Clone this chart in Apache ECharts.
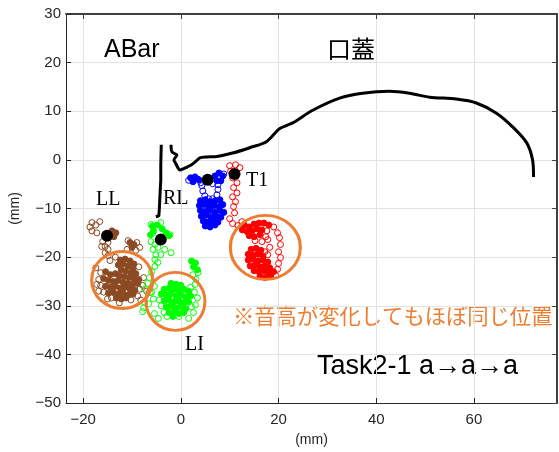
<!DOCTYPE html>
<html>
<head>
<meta charset="utf-8">
<script src="https://cdn.jsdelivr.net/npm/echarts@6/dist/echarts.min.js"></script>
<style>
  html, body { margin: 0; padding: 0; background: #fff; }
  #chart { width: 559px; height: 452px; }
</style>
</head>
<body>
<div id="chart"></div>
<script>
// axis ticks
var xTicks = [-20, 0, 20, 40, 60];
var xRange = [-23.5, 77];
var yRange = [-50, 30];

// palate contour (口蓋)
var palateLeft = [[-4.0, 3.1], [-4.1, -1.0], [-4.1, -4.1], [-4.3, -8.0], [-4.4, -10.2], [-4.5, -11.5], [-5.1, -11.7]];
var palateMain = [
  [-2.0, 3.1], [-1.8, 1.6], [-0.8, 1.0], [-1.4, 0.0], [-1.0, -0.8], [-0.6, -1.6], [-0.2, -2.1],
  [0.6, -1.8], [2.2, -1.0], [3.2, -0.2], [3.9, 0.4], [5.3, 0.6], [7.4, 0.7], [10.6, 1.4],
  [14.1, 2.5], [17.6, 3.8], [20.2, 6.4], [22.9, 7.6], [27.0, 10.2], [32.5, 12.7], [37.2, 13.7],
  [42.7, 14.1], [46.8, 13.7], [50.9, 12.9], [56.4, 12.5], [60.5, 11.7], [64.6, 9.6], [67.9, 6.8],
  [70.8, 3.5], [72.0, 0.0], [72.2, -3.5]
];

// LL (brown)
var llCore = [
  [-12.4, -20.6], [-11.4, -20.4], [-10.4, -20.8], [-9.6, -21.4], [-12.8, -21.6], [-11.8, -21.4], [-10.8, -21.8],
  [-9.8, -22.4], [-12.2, -22.6], [-11.2, -22.8], [-10.2, -23.2], [-9.2, -23.4],
  [-15.4, -23.0], [-14.4, -23.6], [-13.4, -23.4], [-12.6, -23.8], [-11.6, -24.0], [-10.6, -24.2], [-9.6, -24.4], [-8.6, -24.6],
  [-15.8, -24.4], [-14.8, -24.8], [-13.8, -25.0], [-12.8, -24.8], [-11.8, -25.2], [-10.8, -25.4], [-9.8, -25.6], [-8.8, -25.4],
  [-15.4, -26.0], [-14.4, -26.2], [-13.4, -26.0], [-12.4, -26.4], [-11.4, -26.2], [-10.4, -26.6], [-9.4, -26.8],
  [-14.8, -27.4], [-13.8, -27.2], [-12.8, -27.6], [-11.8, -27.4], [-10.8, -27.8], [-9.8, -27.6],
  [-13.2, -28.4], [-12.2, -28.6], [-11.2, -28.4],
  [-14.1, -14.6], [-13.3, -15.0], [-13.7, -15.8], [-10.4, -17.0], [-9.6, -17.4], [-10.0, -18.0]
];
var llRing = [
  [-18.2, -12.9], [-16.6, -12.7], [-17.4, -13.4], [-18.6, -13.8], [-18.2, -14.6], [-17.2, -15.0], [-16.0, -16.8],
  [-14.9, -17.0], [-15.5, -17.8], [-14.9, -18.4], [-16.2, -17.8], [-15.5, -19.1], [-14.9, -19.7], [-14.5, -20.7],
  [-10.8, -16.6], [-9.0, -17.0], [-9.2, -18.6], [-11.0, -18.4], [-8.4, -18.0],
  [-16.4, -23.2], [-17.4, -22.2], [-16.8, -24.6], [-17.2, -25.6], [-16.4, -25.8], [-16.8, -27.0], [-15.8, -27.2],
  [-7.6, -24.2], [-7.8, -25.8], [-8.4, -26.6], [-7.0, -27.0], [-8.8, -28.0], [-8.2, -28.8], [-15.0, -28.6],
  [-14.2, -28.4], [-10.2, -28.8], [-12.6, -29.4], [-13.4, -20.0], [-8.6, -22.0]
];

// RL (green)
var rlCore = [
  [-2.0, -25.4], [-1.0, -25.6], [0.0, -25.8],
  [-3.4, -26.6], [-2.4, -26.4], [-1.4, -26.6], [-0.4, -26.8], [0.6, -26.6], [1.6, -27.0],
  [-4.0, -27.6], [-3.0, -27.8], [-2.0, -27.6], [-1.0, -28.0], [0.0, -27.8], [1.0, -28.2], [2.0, -28.0],
  [-3.4, -29.0], [-2.4, -28.8], [-1.4, -29.2], [-0.4, -29.0], [0.6, -29.4], [1.6, -29.2],
  [-3.0, -30.2], [-2.0, -30.0], [-1.0, -30.4], [0.0, -30.2], [1.0, -30.6],
  [-2.4, -31.4], [-1.4, -31.2], [-0.4, -31.6], [0.6, -31.4], [-1.6, -32.2],
  [-5.8, -13.6], [-4.8, -13.4], [-3.8, -14.2], [-3.0, -15.0], [-2.4, -15.6], [-5.6, -14.6], [-6.2, -15.4],
  [2.2, -20.8], [3.0, -21.2], [2.6, -22.0], [3.4, -22.6]
];
var rlRing = [
  [-6.1, -13.3], [-4.1, -12.9], [-5.7, -15.0], [-2.2, -15.4], [-6.1, -16.8], [-5.3, -17.4], [-4.7, -18.0],
  [-5.7, -18.4], [-3.3, -18.4], [-2.0, -19.1], [-5.1, -19.5], [-4.1, -19.5], [-5.3, -20.5], [-4.7, -21.1],
  [-5.3, -21.9], [-6.0, -23.0], [-6.4, -24.2],
  [3.5, -23.2], [2.5, -23.6], [3.1, -24.6], [2.9, -25.6], [2.0, -26.2],
  [-5.4, -26.0], [-6.0, -27.2], [-5.6, -28.6], [-4.4, -28.8], [-6.6, -29.6], [-4.0, -30.0], [-7.6, -30.4],
  [-7.8, -31.2], [-5.4, -31.6], [-3.4, -31.4], [-4.6, -32.6], [-2.8, -32.2], [-0.4, -32.2],
  [2.8, -27.2], [3.4, -28.4], [3.0, -29.8], [2.2, -30.2], [2.6, -31.4], [1.6, -32.6],
  [-6.8, -25.4], [-7.4, -26.6], [-7.4, -29.3], [-6.3, -27.3]
];

// blue
var blueCore = [
  [4.0, -8.4], [5.0, -8.2], [6.0, -8.6], [7.0, -8.4], [8.0, -8.2],
  [3.8, -9.4], [4.8, -9.2], [5.8, -9.6], [6.8, -9.4], [7.8, -9.6], [8.6, -9.2],
  [4.0, -10.4], [5.0, -10.6], [6.0, -10.4], [7.0, -10.8], [8.0, -10.4], [8.8, -10.8],
  [4.2, -11.6], [5.2, -11.4], [6.2, -11.8], [7.2, -11.6], [8.2, -11.8],
  [4.6, -12.6], [5.6, -12.8], [6.6, -12.6], [7.6, -12.8],
  [5.0, -13.6], [6.0, -13.8], [7.0, -13.4],
  [2.0, -3.7], [2.9, -3.5], [3.7, -4.1], [2.5, -4.5], [7.0, -3.3], [7.8, -2.7], [8.6, -3.3], [7.4, -4.3], [8.2, -4.3]
];
var blueRing = [
  [1.6, -4.2], [3.4, -3.9], [4.1, -4.7], [8.8, -2.9],
  [4.3, -5.3], [4.5, -6.4], [4.9, -7.4], [5.7, -8.0], [6.5, -8.0], [7.4, -7.2], [7.6, -6.1], [7.6, -5.1], [6.5, -4.9]
];

// T1 (red)
var t1Core = [
  [14.4, -18.4], [15.4, -18.2], [16.4, -18.6],
  [13.8, -19.4], [14.8, -19.6], [15.8, -19.4], [16.8, -19.8],
  [13.8, -20.6], [14.8, -20.4], [15.8, -20.8], [16.8, -20.6], [17.8, -21.0],
  [14.2, -21.8], [15.2, -21.6], [16.2, -22.0], [17.2, -21.8], [18.2, -22.2],
  [15.0, -22.8], [16.0, -23.0], [17.0, -22.8], [18.0, -23.2], [19.0, -23.0],
  [16.2, -24.0], [17.2, -24.2], [18.4, -23.8],
  [13.0, -13.4], [14.0, -13.8], [15.0, -13.2], [16.0, -13.0], [17.0, -13.0], [18.0, -13.4],
  [12.6, -14.4], [13.6, -14.8], [14.6, -14.6], [15.6, -14.2], [16.6, -14.4],
  [14.0, -15.6], [15.0, -15.8], [16.2, -15.4]
];
var t1Ring = [
  [10.0, -1.2], [11.2, -1.0], [12.1, -1.6], [10.2, -2.3],
  [10.6, -3.7], [11.5, -4.7], [10.8, -5.7], [11.5, -6.8], [10.6, -7.6], [11.2, -8.6], [10.8, -9.6],
  [11.0, -10.9], [10.0, -12.1], [10.6, -13.1], [11.7, -13.5], [12.5, -12.7],
  [19.0, -13.8], [19.8, -15.0], [17.6, -14.6], [17.4, -15.8], [15.2, -16.6], [16.6, -16.8],
  [20.2, -16.0], [20.4, -17.4], [20.0, -18.9], [20.4, -20.1], [20.0, -21.3], [19.8, -22.5], [19.4, -23.8],
  [17.8, -16.4], [18.2, -18.0], [17.8, -19.5], [17.2, -18.9]
];

// black reference points and orange circles
var refPoints = [[-15.1, -15.6], [-4.1, -16.4], [5.5, -4.1], [11.0, -2.9]];
var circles = [[-12.0, -24.7, 61, 57], [-1.1, -29.1, 59, 58], [17.3, -18.0, 70, 64]];

var axisColor = '#262626';
var font = 'Liberation Sans, Arial, Helvetica, sans-serif';

var chart = echarts.init(document.getElementById('chart'));

function dotSeries(data, color, filled) {
  return {
    type: 'scatter',
    data: data,
    symbol: 'circle',
    symbolSize: 6,
    silent: true,
    itemStyle: {
      opacity: 1,
      color: filled ? color : 'rgba(0,0,0,0)',
      borderColor: color,
      borderWidth: 1
    }
  };
}

function minus(v) {
  return String(v).replace('-', '\u2212');
}

// top / right frame axes (MATLAB "box on")
function frameAxis(pos, extra) {
  var a = {
    type: 'value',
    position: pos,
    axisLine: { show: true, onZero: false, lineStyle: { color: '#404040', width: 2 } },
    axisTick: { show: true, inside: true, length: 5 },
    axisLabel: { show: false },
    splitLine: { show: false }
  };
  for (var k in extra) a[k] = extra[k];
  return a;
}

var option = {
  animation: false,
  backgroundColor: '#fff',
  grid: { left: 66, top: 14, right: 2, bottom: 48 },
  xAxis: [
    {
      type: 'value',
      min: xRange[0],
      max: xRange[1],
      name: '(mm)',
      nameLocation: 'middle',
      nameGap: 30,
      nameTextStyle: { color: axisColor, fontSize: 14, fontFamily: font },
      axisLine: { onZero: false, lineStyle: { color: axisColor, width: 1 } },
      axisTick: { inside: true, length: 5, customValues: xTicks, lineStyle: { color: axisColor } },
      axisLabel: { customValues: xTicks, color: axisColor, fontSize: 15, fontFamily: font, margin: 9, formatter: minus },
      splitLine: { show: true, lineStyle: { color: '#e3e3e3', width: 1 } }
    },
    frameAxis('top', { min: xRange[0], max: xRange[1] })
  ],
  yAxis: [
    {
      type: 'value',
      min: yRange[0],
      max: yRange[1],
      interval: 10,
      name: '(mm)',
      nameLocation: 'middle',
      nameGap: 44,
      nameTextStyle: { color: axisColor, fontSize: 14, fontFamily: font },
      axisLine: { show: true, onZero: false, lineStyle: { color: axisColor, width: 1 } },
      axisTick: { show: true, inside: true, length: 5, lineStyle: { color: axisColor } },
      axisLabel: { color: axisColor, fontSize: 15, fontFamily: font, margin: 5, formatter: minus },
      splitLine: { show: true, lineStyle: { color: '#e3e3e3', width: 1 } }
    },
    frameAxis('right', { min: yRange[0], max: yRange[1], interval: 10 })
  ],
  series: [
    {
      type: 'line', data: palateLeft, showSymbol: false, silent: true,
      lineStyle: { color: '#000', width: 3 }
    },
    {
      type: 'line', data: palateMain, showSymbol: false, silent: true, smooth: 0.3,
      lineStyle: { color: '#000', width: 3 }
    },
    dotSeries(llRing, '#8B4A22', false),
    dotSeries(llCore, '#8B4A22', true),
    dotSeries(rlRing, '#00FF00', false),
    dotSeries(rlCore, '#00FF00', true),
    dotSeries(blueRing, '#0000FF', false),
    dotSeries(blueCore, '#0000FF', true),
    dotSeries(t1Ring, '#FF0000', false),
    dotSeries(t1Core, '#FF0000', true),
    {
      type: 'scatter', data: refPoints, symbolSize: 12, silent: true,
      itemStyle: { color: '#000', opacity: 1 }, z: 5
    },
    {
      type: 'scatter', silent: true, z: 6,
      data: circles.map(function (c) { return [c[0], c[1]]; }),
      symbol: 'circle',
      symbolSize: function (v, p) { return [circles[p.dataIndex][2], circles[p.dataIndex][3]]; },
      itemStyle: { opacity: 1, color: 'rgba(0,0,0,0)', borderColor: '#ED7D31', borderWidth: 3 }
    }
  ],
  graphic: [
    { type: 'text', x: 104, y: 50, style: { text: 'ABar', font: '25px ' + font, fill: '#000', textVerticalAlign: 'middle', verticalAlign: 'middle' } },
    { type: 'text', x: 327, y: 49, style: { text: '口蓋', font: '24px "Noto Sans CJK JP"', fill: '#000', textVerticalAlign: 'middle', verticalAlign: 'middle' } },
    { type: 'text', x: 96, y: 200, style: { text: 'LL', font: '20px "Liberation Serif", serif', fill: '#000', textVerticalAlign: 'middle', verticalAlign: 'middle' } },
    { type: 'text', x: 163, y: 199, style: { text: 'RL', font: '20px "Liberation Serif", serif', fill: '#000', textVerticalAlign: 'middle', verticalAlign: 'middle' } },
    { type: 'text', x: 246, y: 181, style: { text: 'T1', font: '20px "Liberation Serif", serif', fill: '#000', textVerticalAlign: 'middle', verticalAlign: 'middle' } },
    { type: 'text', x: 185, y: 345, style: { text: 'LI', font: '20px "Liberation Serif", serif', fill: '#000', textVerticalAlign: 'middle', verticalAlign: 'middle' } },
    { type: 'text', x: 233, y: 316, style: { text: '※音高が変化してもほぼ同じ位置', font: '21.3px "Noto Sans CJK JP"', fill: '#ED7D31', textVerticalAlign: 'middle', verticalAlign: 'middle' } },
    { type: 'text', x: 317, y: 367, style: { text: 'Task2-1 a→a→a', font: '27px ' + font, fill: '#000', textVerticalAlign: 'middle', verticalAlign: 'middle' } }
  ]
};

chart.setOption(option);
</script>
</body>
</html>
